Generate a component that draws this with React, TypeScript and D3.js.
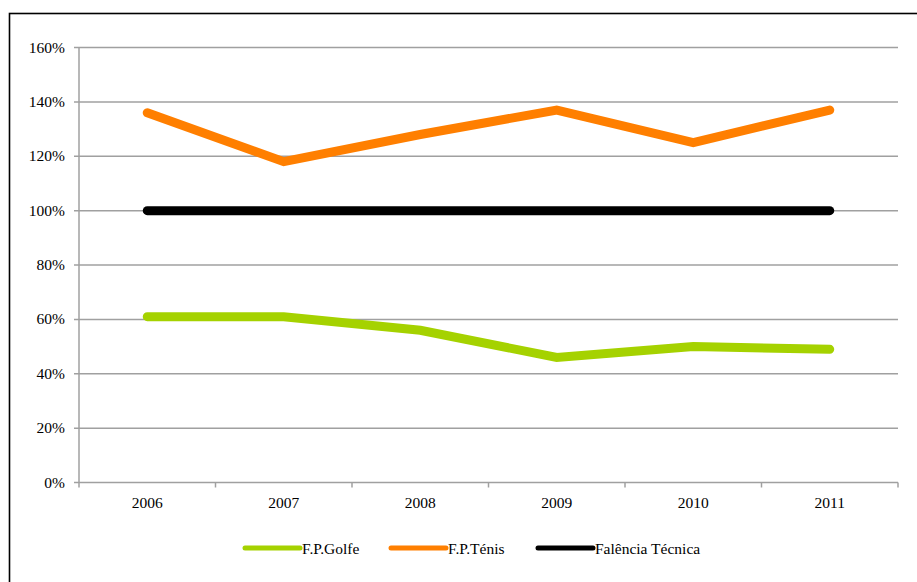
import React from "react";
import * as d3 from "d3";

const years = ["2006", "2007", "2008", "2009", "2010", "2011"];
const golfe = [61, 61, 56, 46, 50, 49];
const tenis = [136, 118, 128, 137, 125, 137];
const falencia = [100, 100, 100, 100, 100, 100];
const yTicks = [0, 20, 40, 60, 80, 100, 120, 140, 160];
const seriesNames = ["F.P.Golfe", "F.P.Ténis", "Falência Técnica"];
const seriesColors = ["#a5d200", "#ff7f00", "#000000"];

export default function App() {
  const W = 917, H = 582;
  const left = 79, right = 898, top = 47.5, bottom = 482.5;
  const x = d3.scaleBand<string>().domain(years).range([left, right]);
  const y = d3.scaleLinear().domain([0, 160]).range([bottom, top]);
  const line = d3
    .line<number>()
    .x((_, i) => (x(years[i]) as number) + x.bandwidth() / 2)
    .y((d) => y(d));
  const series = [golfe, tenis, falencia];
  const font = "'Liberation Serif', 'DejaVu Serif', serif";
  const fs = 15.5;
  const legendX = [245, 391, 538];
  const boundaries = years.map((yr) => x(yr) as number).concat([right]);

  return (
    <svg
      width={W}
      height={H}
      style={{ position: "absolute", left: 0, top: 0, background: "#fff", fontFamily: font }}
    >
      <rect x={0} y={0} width={W} height={H} fill="#fff" />
      <rect x={9.5} y={13.5} width={1000} height={1000} fill="none" stroke="#000" strokeWidth={1.6} />
      {yTicks.map((t) => (
        <g key={t}>
          <line x1={left - 5} x2={right} y1={y(t)} y2={y(t)} stroke="#a0a0a0" strokeWidth={1.5} />
          <text x={65} y={y(t) + 5} textAnchor="end" fontSize={fs} fill="#000" fontFamily={font}>
            {t}%
          </text>
        </g>
      ))}
      <line x1={left} x2={left} y1={top} y2={bottom} stroke="#a0a0a0" strokeWidth={1.5} />
      {boundaries.map((b, i) => (
        <line key={i} x1={b} x2={b} y1={bottom} y2={bottom + 5} stroke="#a0a0a0" strokeWidth={1.5} />
      ))}
      {years.map((yr) => (
        <text
          key={yr}
          x={(x(yr) as number) + x.bandwidth() / 2}
          y={bottom + 25}
          textAnchor="middle"
          fontSize={fs}
          fill="#000"
          fontFamily={font}
        >
          {yr}
        </text>
      ))}
      {series.map((s, i) => (
        <path
          key={i}
          d={line(s) || ""}
          fill="none"
          stroke={seriesColors[i]}
          strokeWidth={9}
          strokeLinecap="round"
          strokeLinejoin="miter"
        />
      ))}
      {seriesNames.map((n, i) => (
        <g key={n}>
          <line
            x1={legendX[i]}
            x2={legendX[i] + 55}
            y1={548}
            y2={548}
            stroke={seriesColors[i]}
            strokeWidth={5}
            strokeLinecap="round"
          />
          <text x={legendX[i] + 57} y={553.5} fontSize={fs} fill="#000" fontFamily={font}>
            {n}
          </text>
        </g>
      ))}
    </svg>
  );
}
